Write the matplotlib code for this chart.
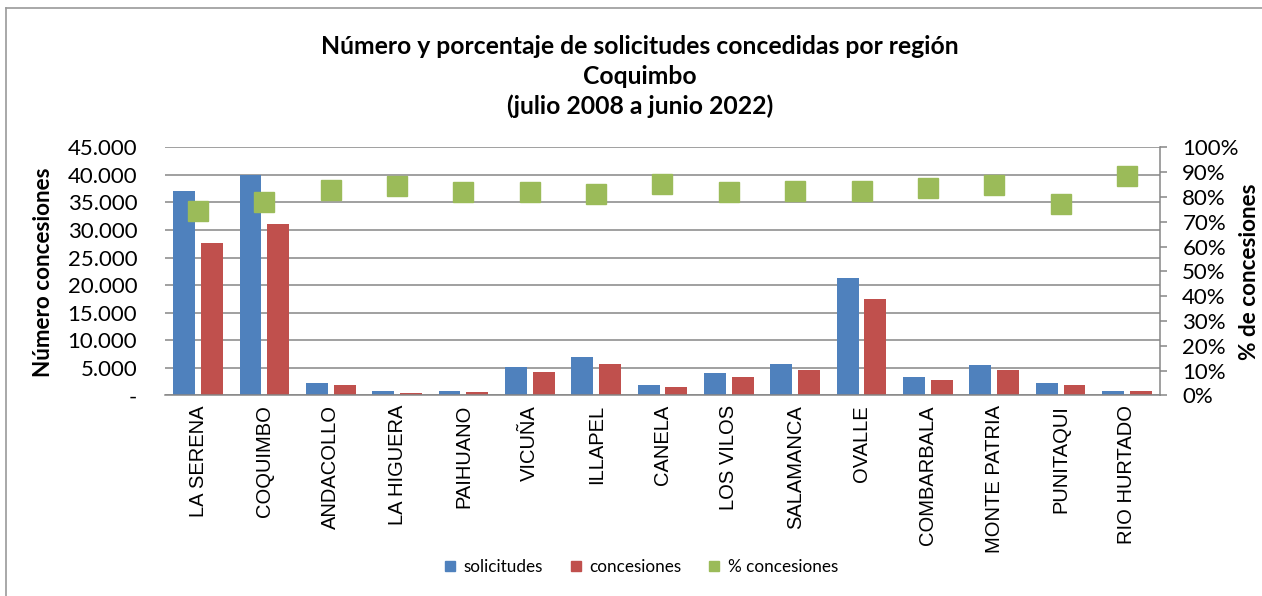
import numpy as np
import matplotlib.pyplot as plt
from matplotlib.lines import Line2D
from matplotlib.ticker import FuncFormatter, MultipleLocator

comunas = ["LA SERENA", "COQUIMBO", "ANDACOLLO", "LA HIGUERA", "PAIHUANO", "VICUÑA",
           "ILLAPEL", "CANELA", "LOS VILOS", "SALAMANCA", "OVALLE", "COMBARBALA",
           "MONTE PATRIA", "PUNITAQUI", "RIO HURTADO"]
solicitudes = [37100, 39900, 2290, 730, 840, 5080, 6950, 1870, 4050, 5680, 21300, 3320, 5440, 2290, 840]
concesiones = [27700, 31100, 1870, 470, 650, 4170, 5620, 1560, 3320, 4650, 17470, 2780, 4650, 1820, 780]
pct_concesiones = [74.5, 78.0, 82.9, 84.3, 82.0, 82.1, 81.2, 85.4, 82.1, 82.5, 82.5, 83.5, 84.9, 77.0, 88.5]

azul = "#4F81BD"
rojo = "#C0504D"
verde = "#9BBB59"
gris = "#868686"
fuente = "Lato"

fig = plt.figure(figsize=(12.62, 5.96), dpi=100)
ax = fig.add_axes([0.1307, 0.3367, 0.7885, 0.4161])
ax2 = ax.twinx()

x = np.arange(len(comunas))
ax.bar(x - 0.21, solicitudes, width=0.33, color=azul, label="solicitudes", zorder=2)
ax.bar(x + 0.21, concesiones, width=0.33, color=rojo, label="concesiones", zorder=2)
ax2.plot(x, np.array(pct_concesiones) / 100, linestyle="None", marker="s", markersize=14.5,
         color=verde, label="% concesiones")

ax.set_xlim(-0.5, len(comunas) - 0.5)
ax.set_ylim(0, 45000)
ax2.set_ylim(0, 1)

# eje izquierdo
ax.yaxis.set_major_locator(MultipleLocator(5000))
ax.yaxis.set_major_formatter(FuncFormatter(lambda v, p: "-" if v == 0 else f"{int(v):,}".replace(",", ".")))
ax.tick_params(axis="y", length=0, pad=20, labelsize=16)
ax.grid(axis="y", color=gris, linewidth=1.1, zorder=0)
ax.set_axisbelow(True)
for t in ax.get_yticklabels():
    t.set_fontfamily(fuente)

# eje x
ax.set_xticks(x)
ax.set_xticklabels(comunas, rotation=90, fontsize=14.5, fontfamily="Liberation Sans")
ax.tick_params(axis="x", length=0, pad=7)

for s in ["left", "top", "right"]:
    ax.spines[s].set_visible(False)
ax.spines["bottom"].set_color(gris)
ax.spines["bottom"].set_linewidth(1.1)

# eje derecho
ax2.yaxis.set_major_locator(MultipleLocator(0.1))
ax2.yaxis.set_major_formatter(FuncFormatter(lambda v, p: f"{v * 100:.0f}%"))
ax2.tick_params(axis="y", length=5, width=1.1, color=gris, pad=11, labelsize=16)
for t in ax2.get_yticklabels():
    t.set_fontfamily(fuente)
for s in ["left", "top", "bottom"]:
    ax2.spines[s].set_visible(False)
ax2.spines["right"].set_color(gris)
ax2.spines["right"].set_linewidth(1.1)

# textos
titulo = ["Número y porcentaje de solicitudes concedidas por región", "Coquimbo",
          "(julio 2008 a junio 2022)"]
for i, linea in enumerate(titulo):
    fig.text(0.507, 1 - (46 + 30 * i) / 596, linea, ha="center", va="center",
             fontsize=17.8, fontweight="bold", fontfamily=fuente)
fig.text(43 / 1262, 1 - 272 / 596, "Número concesiones", rotation=90, ha="center", va="center",
         fontsize=16.2, fontweight="bold", fontfamily=fuente)
fig.text(1249 / 1262, 1 - 272 / 596, "% de concesiones", rotation=90, ha="center", va="center",
         fontsize=16.2, fontweight="bold", fontfamily=fuente)

# leyenda
h1, l1 = ax.get_legend_handles_labels()
h2, l2 = ax2.get_legend_handles_labels()
hs = [Line2D([], [], linestyle="None", marker="s", markersize=7.5, color=c) for c in (azul, rojo, verde)]
fig.legend(hs, l1 + l2, loc="center", bbox_to_anchor=(0.507, 1 - 567 / 596), ncol=3,
           frameon=False, prop={"family": fuente, "size": 12.3}, handletextpad=0.3,
           columnspacing=1.4, handlelength=1.0)

# borde del grafico
fig.add_artist(Line2D([6 / 1262, 6 / 1262], [0, 1 - 8 / 596], color="#9a9a9a", linewidth=1.2))
fig.add_artist(Line2D([6 / 1262, 1], [1 - 8 / 596, 1 - 8 / 596], color="#9a9a9a", linewidth=1.2))

fig.savefig("out.png", dpi=100)
